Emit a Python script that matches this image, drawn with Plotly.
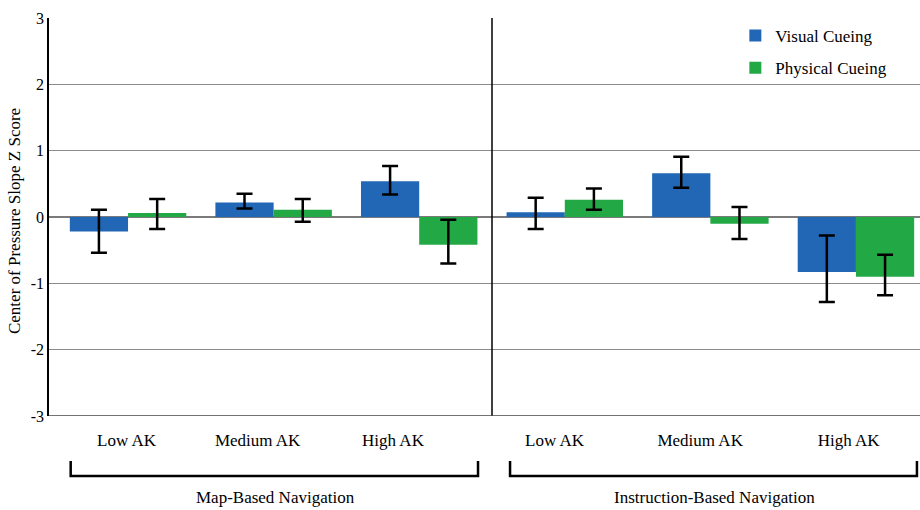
import plotly.graph_objects as go

# ---- data ----
categories = ["Low AK", "Medium AK", "High AK", "Low AK", "Medium AK", "High AK"]
groups = ["Map-Based Navigation", "Instruction-Based Navigation"]
series_names = ["Visual Cueing", "Physical Cueing"]

visual = [-0.22, 0.22, 0.54, 0.07, 0.66, -0.83]
visual_err_plus = [0.33, 0.13, 0.23, 0.22, 0.25, 0.55]
visual_err_minus = [0.32, 0.09, 0.20, 0.25, 0.22, 0.45]

physical = [0.06, 0.11, -0.42, 0.26, -0.10, -0.90]
physical_err_plus = [0.21, 0.16, 0.38, 0.17, 0.25, 0.33]
physical_err_minus = [0.24, 0.18, 0.28, 0.15, 0.23, 0.28]

y_ticks = [-3, -2, -1, 0, 1, 2, 3]

# ---- styling ----
FONT = "Liberation Serif"
BLUE = "#2267b5"
GREEN = "#22a844"

xpos = list(range(len(categories)))
label_pos = [-0.01, 0.89, 1.82, 2.93, 3.93, 4.95]

fig = go.Figure()
fig.add_trace(go.Bar(
    x=xpos, y=visual, name=series_names[0], marker_color=BLUE,
    marker_line_width=0, legendgroup="a",
    error_y=dict(type="data", symmetric=False, array=visual_err_plus,
                 arrayminus=visual_err_minus, color="black", thickness=2.5, width=8),
))
fig.add_trace(go.Bar(
    x=xpos, y=physical, name=series_names[1], marker_color=GREEN,
    marker_line_width=0, legendgroup="b",
    error_y=dict(type="data", symmetric=False, array=physical_err_plus,
                 arrayminus=physical_err_minus, color="black", thickness=2.5, width=8),
))

shapes = []
# divider between the two navigation groups
shapes.append(dict(type="line", xref="x", yref="y", x0=2.5, x1=2.5, y0=-3, y1=3,
                   line=dict(color="black", width=1.5)))
# bottom axis line at -3
shapes.append(dict(type="line", xref="paper", yref="y", x0=0, x1=1, y0=-3, y1=-3,
                   line=dict(color="#444444", width=1.5)))
# brackets
brackets = [(-0.394, 2.404), (2.624, 5.419)]
for (a, b) in brackets:
    shapes.append(dict(type="path", xref="x", yref="paper",
                       path=f"M {a},-0.113 L {a},-0.151 L {b},-0.151 L {b},-0.113",
                       line=dict(color="black", width=2.5)))

annotations = []
for gx, g in zip([1.01, 4.03], groups):
    annotations.append(dict(x=gx, y=-0.204, xref="x", yref="paper", text=g,
                            showarrow=False, xanchor="center", yanchor="middle",
                            font=dict(family=FONT, size=17, color="black")))
annotations.append(dict(x=-0.039, y=0.49, xref="paper", yref="paper",
                        text="Center of Pressure Slope Z Score", textangle=-90,
                        showarrow=False, xanchor="center", yanchor="middle",
                        font=dict(family=FONT, size=17, color="black")))

fig.update_layout(
    width=920, height=510,
    margin=dict(l=49, r=0, t=18, b=94),
    paper_bgcolor="white", plot_bgcolor="white",
    barmode="group", bargap=0.2, bargroupgap=0,
    font=dict(family=FONT, size=17, color="black"),
    showlegend=True,
    legend=dict(x=0.788, y=1.0, xanchor="left", yanchor="top",
                bgcolor="rgba(0,0,0,0)", font=dict(family=FONT, size=17),
                traceorder="grouped", tracegroupgap=7),
    shapes=shapes, annotations=annotations,
)
fig.update_xaxes(
    range=[-0.543, 5.44], tickvals=label_pos, ticktext=categories,
    showgrid=False, zeroline=False, ticks="", showline=False,
    ticklabelstandoff=12, tickfont=dict(family=FONT, size=17),
)
fig.update_yaxes(
    range=[-3, 3], tickvals=y_ticks, ticktext=[str(v) for v in y_ticks],
    showgrid=True, gridcolor="#8c8c8c", gridwidth=1,
    zeroline=True, zerolinecolor="#7a7a7a", zerolinewidth=1.5,
    showline=True, linecolor="black", linewidth=1.5, mirror=False,
    ticks="", tickfont=dict(family=FONT, size=16),
)

fig.write_html("out.html", config={"displayModeBar": False},
               post_script="document.body.style.margin='0';")
